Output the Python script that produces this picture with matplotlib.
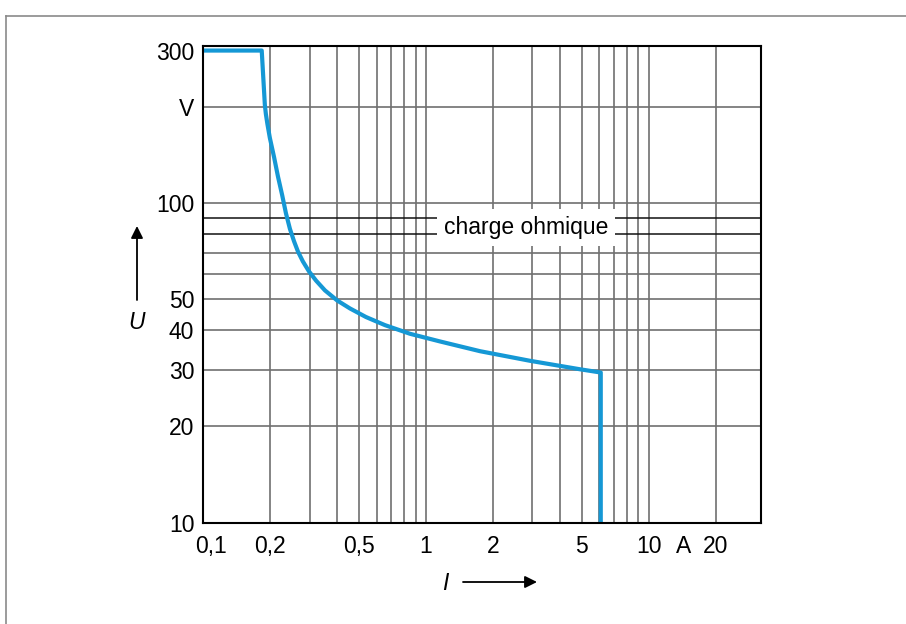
import matplotlib
matplotlib.use("Agg")
import matplotlib.pyplot as plt
from matplotlib.lines import Line2D
from matplotlib.transforms import ScaledTranslation

plt.rcParams['font.family'] = ['Liberation Sans', 'DejaVu Sans']

# Data
current_I = [0.1, 0.183, 0.189, 0.191, 0.194, 0.199, 0.208, 0.2165, 0.226, 0.235, 0.245,
             0.2555, 0.266, 0.280, 0.298, 0.321, 0.352, 0.399, 0.456, 0.538, 0.655, 0.848,
             1.157, 1.75, 2.935, 4.92, 6.1, 6.1]
voltage_U = [300, 300, 203, 190, 177, 160, 139, 121, 106, 93, 83,
             76, 70.6, 65.7, 61.2, 57.2, 53.3, 49.6, 46.8, 44.0, 41.5, 39.0,
             36.9, 34.4, 32.1, 30.2, 29.5, 10]

x_ticks = [0.1, 0.2, 0.5, 1, 2, 5, 10, 14.3, 20]
x_tick_labels = ["0,1", "0,2", "0,5", "1", "2", "5", "10", "A", "20"]
x_grid = [0.2, 0.3, 0.4, 0.5, 0.6, 0.7, 0.8, 0.9, 1, 2, 3, 4, 5, 6, 7, 8, 9, 10, 20]
y_ticks = [10, 20, 30, 40, 50, 100, 200, 300]
y_tick_labels = ["10", "20", "30", "40", "50", "100", "V", "300"]
y_grid = [20, 30, 40, 50, 60, 70, 80, 90, 100, 200]

W, H = 906, 624
fig = plt.figure(figsize=(W / 100, H / 100), dpi=100)
fig.patch.set_facecolor('white')

# outer gray frame (top and left visible)
fig.add_artist(Line2D([6 / W, 6 / W], [0, 1 - 16 / H], color='#8a8a8a', lw=1.2, transform=fig.transFigure))
fig.add_artist(Line2D([6 / W, 1], [1 - 16 / H, 1 - 16 / H], color='#8a8a8a', lw=1.2, transform=fig.transFigure))

left, right, top, bottom = 203.3, 761, 46, 522.7
ax = fig.add_axes([left / W, 1 - bottom / H, (right - left) / W, (bottom - top) / H])
ax.set_xscale('log')
ax.set_yscale('log')
ax.set_xlim(0.1, 32)
ax.set_ylim(10, 310)

for gx in x_grid:
    ax.axvline(gx, color='#707070', lw=1.2, zorder=1)
for gy in y_grid:
    c = '#111111' if gy in (80, 90) else '#707070'
    ax.axhline(gy, color=c, lw=1.1 if gy in (80, 90) else 1.2, zorder=1)

ax.plot(current_I, voltage_U, color='#1598d5', lw=3.0, zorder=3,
        solid_joinstyle='round', solid_capstyle='butt')

ax.xaxis.set_minor_locator(matplotlib.ticker.NullLocator())
ax.yaxis.set_minor_locator(matplotlib.ticker.NullLocator())
ax.set_xticks(x_ticks)
ax.set_xticklabels(x_tick_labels)
ax.set_yticks(y_ticks)
ax.set_yticklabels(y_tick_labels)
ax.tick_params(axis='both', length=0, labelsize=16.5, colors='black')
ax.tick_params(axis='x', pad=9)
ax.tick_params(axis='y', pad=6.5)

# shift the "0,1" label off the axis corner
lbl = ax.get_xticklabels()[0]
lbl.set_transform(lbl.get_transform() + ScaledTranslation(8 / 100, 0, fig.dpi_scale_trans))

for s in ax.spines.values():
    s.set_color('black')
    s.set_linewidth(1.5)
    s.set_zorder(4)

# curve label
ax.text(2.81, 84, "charge ohmique", ha='center', va='center', fontsize=16.5, zorder=5,
        bbox=dict(facecolor='white', edgecolor='none', pad=5))

# axis labels with arrows (figure pixels)
fig.text(137 / W, 1 - 322 / H, "U", style='italic', fontsize=16.5, ha='center', va='center')
ax.annotate("", xy=(137, H - 226), xytext=(137, H - 300), xycoords='figure pixels',
            textcoords='figure pixels',
            arrowprops=dict(arrowstyle='-|>', color='black', lw=1.3, mutation_scale=18, shrinkA=0, shrinkB=0))
fig.text(445 / W, 1 - 583 / H, "I", style='italic', fontsize=16.5, ha='center', va='center')
ax.annotate("", xy=(537, H - 582), xytext=(463, H - 582), xycoords='figure pixels',
            textcoords='figure pixels',
            arrowprops=dict(arrowstyle='-|>', color='black', lw=1.3, mutation_scale=18, shrinkA=0, shrinkB=0))

fig.savefig("out.png", dpi=100)
